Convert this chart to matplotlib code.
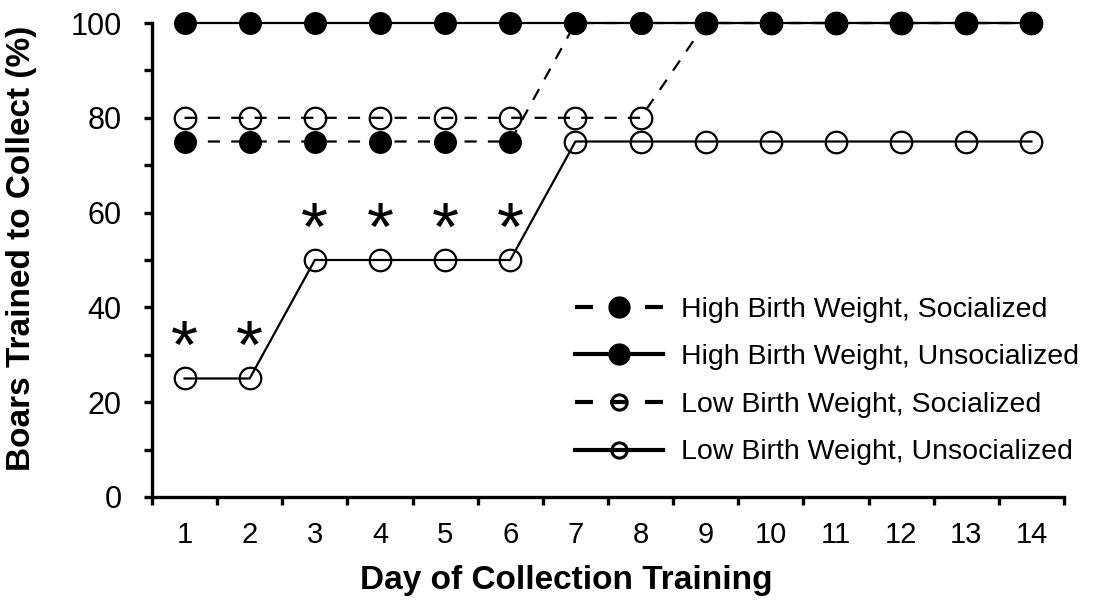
import numpy as np
import matplotlib.pyplot as plt
from matplotlib.lines import Line2D

plt.rcParams['font.family'] = ['Liberation Sans', 'DejaVu Sans']

# percent of boars trained to collect, by day of training
days = np.arange(1, 15)
hbw_social = [75, 75, 75, 75, 75, 75, 100, 100, 100, 100, 100, 100, 100, 100]
hbw_unsocial = [100] * 14
lbw_social = [80, 80, 80, 80, 80, 80, 80, 80, 100, 100, 100, 100, 100, 100]
lbw_unsocial = [25, 25, 50, 50, 50, 50, 75, 75, 75, 75, 75, 75, 75, 75]

labels = ['High Birth Weight, Socialized',
          'High Birth Weight, Unsocialized',
          'Low Birth Weight, Socialized',
          'Low Birth Weight, Unsocialized']

# significance marks
star_days = [1, 2, 3, 4, 5, 6]
star_y = [31, 31, 56, 56, 56, 56]

fig = plt.figure(figsize=(10.94, 6.04), dpi=100)
ax = fig.add_axes([0.1389, 0.1772, 0.8337, 0.7847])

dash = (0, (5.5, 5))
lw = 1.6
ms = 15.5

ax.plot(days, lbw_unsocial, '-', color='black', lw=lw, marker='o', ms=ms,
        mfc='none', mec='black', mew=1.6, clip_on=False, zorder=3)
ax.plot(days, lbw_social, linestyle=dash, color='black', lw=lw, marker='o', ms=ms,
        mfc='none', mec='black', mew=1.6, clip_on=False, zorder=3)
ax.plot(days, hbw_social, linestyle=dash, color='black', lw=lw, marker='o', ms=ms,
        mfc='black', mec='black', clip_on=False, zorder=4)
ax.plot(days, hbw_unsocial, '-', color='black', lw=lw, marker='o', ms=ms,
        mfc='black', mec='black', clip_on=False, zorder=4)

for d, h in zip(star_days, star_y):
    ax.text(d, h, '*', ha='center', va='center', fontsize=50, color='black')

ax.set_xlim(0.5, 14.5)
ax.set_ylim(0, 100)

# ticks between days, labels on the days
ax.set_xticks(np.arange(0.5, 15, 1))
ax.set_xticklabels([])
ax.set_xticks(days, minor=True)
ax.set_xticklabels([str(d) for d in days], minor=True)
ax.tick_params(axis='x', which='major', direction='out', length=6, width=2.4)
ax.tick_params(axis='x', which='minor', length=0, pad=17, labelsize=21)

ax.set_yticks(np.arange(0, 101, 20))
ax.set_yticks(np.arange(10, 100, 20), minor=True)
ax.tick_params(axis='y', which='both', direction='out', length=6, width=2.4,
               pad=16, labelsize=22)

for s in ['top', 'right']:
    ax.spines[s].set_visible(False)
for s in ['left', 'bottom']:
    ax.spines[s].set_linewidth(2.4)

ax.set_ylabel('Boars Trained to Collect (%)', fontsize=24, fontweight='bold')
ax.yaxis.set_label_coords(-0.126, 0.525)
ax.set_xlabel('Day of Collection Training', fontsize=24, fontweight='bold')
ax.xaxis.set_label_coords(0.454, -0.144)

leg_dash = (0, (4.3, 4.1))
handles = [
    Line2D([], [], linestyle=leg_dash, color='black', lw=3, marker='o',
           ms=15, mfc='black', mec='black'),
    Line2D([], [], linestyle='-', color='black', lw=3, marker='o',
           ms=15, mfc='black', mec='black'),
    Line2D([], [], linestyle=leg_dash, color='black', lw=3, marker='o',
           ms=11, mfc='none', mec='black', mew=2.2),
    Line2D([], [], linestyle='-', color='black', lw=3, marker='o',
           ms=11, mfc='none', mec='black', mew=2.2),
]
fig.legend(handles, labels, loc='upper left', bbox_to_anchor=(0.5256, 0.509),
           frameon=False, fontsize=20.5, handlelength=3.1, handletextpad=0.63,
           labelspacing=0.76, borderpad=0, borderaxespad=0, numpoints=1)

fig.savefig('out.png', dpi=100)
